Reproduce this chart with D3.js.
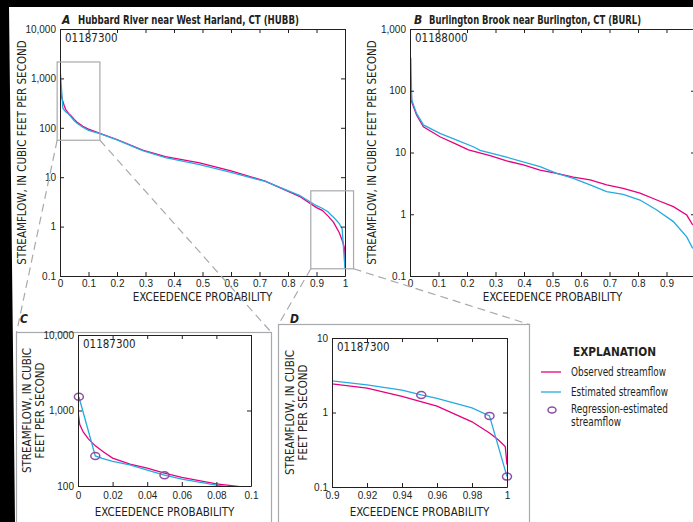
<!DOCTYPE html>
<html>
<head>
<meta charset="utf-8">
<script src="https://cdn.jsdelivr.net/npm/d3@7"></script>
<style>
  body { margin: 0; background: #fff; }
  svg { display: block; font-family: "Liberation Sans Narrow", "DejaVu Sans Condensed", "Roboto Condensed", sans-serif; }
  .axis text { font-size: 10px; fill: #231f20; }
  .axis path, .axis line { stroke: #231f20; }
  .lbl { font-size: 11.5px; fill: #231f20; }
  .title { font-size: 12px; font-weight: bold; fill: #231f20; }
</style>
</head>
<body>
<div id="container"></div>
<script>
// Hubbard River (HUBB) 01187300
const hubbObsP = [0, 0.001, 0.003, 0.006, 0.01, 0.015, 0.02, 0.03, 0.04, 0.05, 0.06, 0.08, 0.1, 0.14, 0.2, 0.29, 0.37, 0.49, 0.6, 0.72, 0.84, 0.9, 0.92, 0.94, 0.96, 0.98, 0.99, 0.995, 0.999, 1];
const hubbObsQ = [965, 650, 520, 420, 340, 280, 234, 195, 172, 148, 130, 107, 94, 77, 58, 35.5, 26, 19.5, 13.5, 8.3, 4.1, 2.42, 2.13, 1.65, 1.22, 0.75, 0.53, 0.43, 0.35, 0.2];
const hubbEstP = [0.0005, 0.01, 0.014, 0.02, 0.03, 0.04, 0.05, 0.06, 0.08, 0.1, 0.14, 0.2, 0.29, 0.37, 0.49, 0.6, 0.72, 0.84, 0.9, 0.92, 0.94, 0.951, 0.96, 0.98, 0.99, 1];
const hubbEstQ = [1520, 250, 232, 212, 190, 162, 139, 123, 103, 89, 76, 57, 34.5, 25, 18, 12.5, 8.2, 4.3, 2.65, 2.35, 2.0, 1.72, 1.55, 1.15, 0.9, 0.138];
const hubbRegP = [0.0005, 0.01, 0.05, 0.951, 0.99, 1];
const hubbRegQ = [1520, 250, 139, 1.72, 0.9, 0.138];

// Burlington Brook (BURL) 01188000
const burlObsP = [0.002, 0.003, 0.006, 0.023, 0.047, 0.105, 0.164, 0.205, 0.281, 0.339, 0.398, 0.456, 0.515, 0.573, 0.632, 0.69, 0.748, 0.807, 0.866, 0.924, 0.971, 0.992];
const burlObsQ = [149, 149, 66, 40.5, 26, 18, 13.5, 11, 8.9, 7.3, 6.3, 5.2, 4.6, 4.0, 3.6, 2.98, 2.63, 2.19, 1.7, 1.33, 0.97, 0.67];
const burlEstP = [0.002, 0.003, 0.006, 0.023, 0.047, 0.105, 0.164, 0.222, 0.246, 0.339, 0.456, 0.515, 0.573, 0.632, 0.69, 0.748, 0.807, 0.866, 0.924, 0.971, 0.992];
const burlEstQ = [335, 335, 71, 43, 28, 20.4, 15.9, 12.4, 10.8, 8.4, 5.9, 4.6, 3.8, 2.98, 2.32, 2.1, 1.7, 1.17, 0.76, 0.43, 0.28];

const probTicks = [0, 0.1, 0.2, 0.3, 0.4, 0.5, 0.6, 0.7, 0.8, 0.9, 1];
const probTicksC = [0, 0.02, 0.04, 0.06, 0.08, 0.1];
const probTicksD = [0.9, 0.92, 0.94, 0.96, 0.98, 1];
const flowTicksA = [0.1, 1, 10, 100, 1000, 10000];
const flowTicksB = [0.1, 1, 10, 100, 1000];
const flowTicksC = [100, 1000, 10000];
const flowTicksD = [0.1, 1, 10];

const obsColor = "#e6007e";
const estColor = "#25aae1";
const regColor = "#8e4fa3";
const grey = "#a7a9ac";

const W = 693, H = 522;
const svg = d3.select("#container")
  .append("svg")
  .attr("width", W)
  .attr("height", H);

svg.append("rect").attr("width", W).attr("height", H).attr("fill", "#fff");

let clipId = 0;

const drawPanel = (o) => {
  const x = d3.scaleLinear().domain(o.xDomain).range([o.left, o.right]);
  const y = d3.scaleLog().domain(o.yDomain).range([o.bottom, o.top]);
  const g = svg.append("g");
  const id = "clip" + (clipId++);

  g.append("clipPath").attr("id", id)
    .append("rect")
    .attr("x", o.left).attr("y", o.top)
    .attr("width", o.right - o.left).attr("height", o.bottom - o.top);

  const line = (ps, qs) => d3.line()
    .x(i => x(ps[i]))
    .y(i => y(qs[i]))(d3.range(ps.length));

  g.append("path")
    .attr("d", line(o.obsP, o.obsQ))
    .attr("clip-path", "url(#" + id + ")")
    .attr("fill", "none")
    .attr("stroke", obsColor)
    .attr("stroke-width", 1.3);

  g.append("path")
    .attr("d", line(o.estP, o.estQ))
    .attr("clip-path", "url(#" + id + ")")
    .attr("fill", "none")
    .attr("stroke", estColor)
    .attr("stroke-width", 1.3);

  if (o.regP) {
    g.selectAll(".reg")
      .data(d3.range(o.regP.length).filter(i => o.regP[i] >= o.xDomain[0] && o.regP[i] <= o.xDomain[1]))
      .enter()
      .append("ellipse")
      .attr("class", "reg")
      .attr("cx", i => x(o.regP[i]))
      .attr("cy", i => y(o.regQ[i]))
      .attr("rx", 4.5)
      .attr("ry", 3.5)
      .attr("fill", "none")
      .attr("stroke", regColor)
      .attr("stroke-width", 1.5);
  }

  // labels that would fall past the page edge are not printed in the report
  const fmtX = d => x(d) > W - 4 ? "" : String(d);
  const fmtY = d => d3.format(",")(d);

  g.append("g").attr("class", "axis")
    .attr("transform", "translate(0," + o.bottom + ")")
    .call(d3.axisBottom(x).tickValues(o.xTicks).tickFormat(fmtX).tickSizeInner(-4).tickSizeOuter(0).tickPadding(o.xPad));
  g.append("g").attr("class", "axis")
    .attr("transform", "translate(0," + o.top + ")")
    .call(d3.axisTop(x).tickValues(o.xTicks).tickFormat("").tickSizeInner(-4).tickSizeOuter(0));
  g.append("g").attr("class", "axis")
    .attr("transform", "translate(" + o.left + ",0)")
    .call(d3.axisLeft(y).tickValues(o.yTicks).tickFormat(fmtY).tickSizeInner(-4).tickSizeOuter(0).tickPadding(4));
  g.append("g").attr("class", "axis")
    .attr("transform", "translate(" + o.right + ",0)")
    .call(d3.axisRight(y).tickValues(o.yTicks).tickFormat("").tickSizeInner(-4).tickSizeOuter(0));

  g.append("text").attr("class", "lbl")
    .attr("x", o.left + 5).attr("y", o.top + 13)
    .attr("font-size", 11)
    .text(o.station);

  g.append("text").attr("class", "lbl")
    .attr("x", (o.left + o.right) / 2).attr("y", o.bottom + o.titleDy)
    .attr("text-anchor", "middle")
    .text("EXCEEDENCE PROBABILITY");

  const yl = g.append("text").attr("class", "lbl")
    .attr("text-anchor", "middle")
    .attr("transform", "translate(" + o.yLabelX + "," + ((o.top + o.bottom) / 2) + ") rotate(-90)");
  o.yLabel.forEach((t, i) => {
    yl.append("tspan").attr("x", 0).attr("dy", i === 0 ? 0 : 13).text(t);
  });

  return {x, y};
};

const A = drawPanel({
  left: 60, right: 345, top: 29, bottom: 276,
  xDomain: [0, 1], yDomain: [0.1, 10000],
  xTicks: probTicks, yTicks: flowTicksA, xPad: 4, titleDy: 25,
  obsP: hubbObsP, obsQ: hubbObsQ, estP: hubbEstP, estQ: hubbEstQ,
  station: "01187300",
  yLabel: ["STREAMFLOW, IN CUBIC FEET PER SECOND"], yLabelX: 26
});

drawPanel({
  left: 410, right: 695, top: 29, bottom: 276,
  xDomain: [0, 1], yDomain: [0.1, 1000],
  xTicks: probTicks, yTicks: flowTicksB, xPad: 4, titleDy: 25,
  obsP: burlObsP, obsQ: burlObsQ, estP: burlEstP, estQ: burlEstQ,
  station: "01188000",
  yLabel: ["STREAMFLOW, IN CUBIC FEET PER SECOND"], yLabelX: 376
});

// inset frames
svg.append("rect").attr("x", 16.5).attr("y", 332.5).attr("width", 255).attr("height", 220)
  .attr("fill", "none").attr("stroke", grey).attr("stroke-width", 1.2);
svg.append("rect").attr("x", 278.5).attr("y", 324.5).attr("width", 251).attr("height", 220)
  .attr("fill", "none").attr("stroke", grey).attr("stroke-width", 1.2);

drawPanel({
  left: 78, right: 251, top: 335, bottom: 486,
  xDomain: [0, 0.1], yDomain: [100, 10000],
  xTicks: probTicksC, yTicks: flowTicksC, xPad: 6, titleDy: 30,
  obsP: hubbObsP, obsQ: hubbObsQ, estP: hubbEstP, estQ: hubbEstQ,
  regP: hubbRegP, regQ: hubbRegQ,
  station: "01187300",
  yLabel: ["STREAMFLOW, IN CUBIC", "FEET PER SECOND"], yLabelX: 31
});

drawPanel({
  left: 332, right: 507, top: 338, bottom: 487,
  xDomain: [0.9, 1], yDomain: [0.1, 10],
  xTicks: probTicksD, yTicks: flowTicksD, xPad: 5, titleDy: 29,
  obsP: hubbObsP, obsQ: hubbObsQ, estP: hubbEstP, estQ: hubbEstQ,
  regP: hubbRegP, regQ: hubbRegQ,
  station: "01187300",
  yLabel: ["STREAMFLOW, IN CUBIC", "FEET PER SECOND"], yLabelX: 294
});

// zoom boxes on panel A and their leader lines
const boxC = {x0: A.x(-0.01), x1: A.x(0.14), y0: A.y(2150), y1: A.y(56)};
const boxD = {x0: A.x(0.88), x1: A.x(1.03), y0: A.y(5.3), y1: A.y(0.14)};
[boxC, boxD].forEach(b => {
  svg.append("rect")
    .attr("x", b.x0).attr("y", b.y0)
    .attr("width", b.x1 - b.x0).attr("height", b.y1 - b.y0)
    .attr("fill", "none").attr("stroke", grey).attr("stroke-width", 1.2);
});
const leaders = [
  [boxC.x0, boxC.y1, 16.5, 332.5],
  [boxC.x1, boxC.y1, 271.5, 332.5],
  [boxD.x0, boxD.y1, 278.5, 324.5],
  [boxD.x1, boxD.y1, 529.5, 324.5]
];
svg.selectAll(".leader")
  .data(leaders)
  .enter()
  .append("line")
  .attr("x1", d => d[0]).attr("y1", d => d[1])
  .attr("x2", d => d[2]).attr("y2", d => d[3])
  .attr("stroke", grey).attr("stroke-width", 1.2).attr("stroke-dasharray", "8,5");

// panel titles (condensed face squeezed horizontally to the report's width)
const titles = [
  {x: 62, y: 24, letter: "A", tx: 78, text: "Hubbard River near West Harland, CT (HUBB)", sx: 0.8},
  {x: 414, y: 24, letter: "B", tx: 429, text: "Burlington Brook near Burlington, CT (BURL)", sx: 0.78},
  {x: 20, y: 323, letter: "C"},
  {x: 290, y: 323, letter: "D"}
];
titles.forEach(t => {
  svg.append("text").attr("class", "title").attr("x", t.x).attr("y", t.y)
    .attr("font-style", "italic").text(t.letter);
  if (t.text) {
    svg.append("text").attr("class", "title")
      .attr("transform", "translate(" + t.tx + "," + t.y + ") scale(" + t.sx + ",1)")
      .text(t.text);
  }
});

// explanation
const leg = svg.append("g");
leg.append("text").attr("class", "title").attr("x", 573).attr("y", 356)
  .attr("font-size", 12.5).attr("textLength", 83).attr("lengthAdjust", "spacingAndGlyphs")
  .text("EXPLANATION");
leg.append("line").attr("x1", 541).attr("x2", 561).attr("y1", 372).attr("y2", 372)
  .attr("stroke", obsColor).attr("stroke-width", 1.3);
leg.append("line").attr("x1", 541).attr("x2", 561).attr("y1", 392).attr("y2", 392)
  .attr("stroke", estColor).attr("stroke-width", 1.3);
leg.append("ellipse").attr("cx", 552).attr("cy", 410).attr("rx", 4).attr("ry", 3)
  .attr("fill", "none").attr("stroke", regColor).attr("stroke-width", 1.5);
[["Observed streamflow", 375.5, 95], ["Estimated streamflow", 395.5, 97], ["Regression-estimated", 413, 97], ["streamflow", 426, 50]]
  .forEach(d => {
    leg.append("text").attr("class", "lbl").attr("font-size", 10)
      .attr("x", 571).attr("y", d[1])
      .attr("textLength", d[2]).attr("lengthAdjust", "spacingAndGlyphs")
      .text(d[0]);
  });

// black scan border
svg.append("path")
  .attr("d", "M0,0H693V7H9L15,522H0Z")
  .attr("fill", "#000");
</script>
</body>
</html>
